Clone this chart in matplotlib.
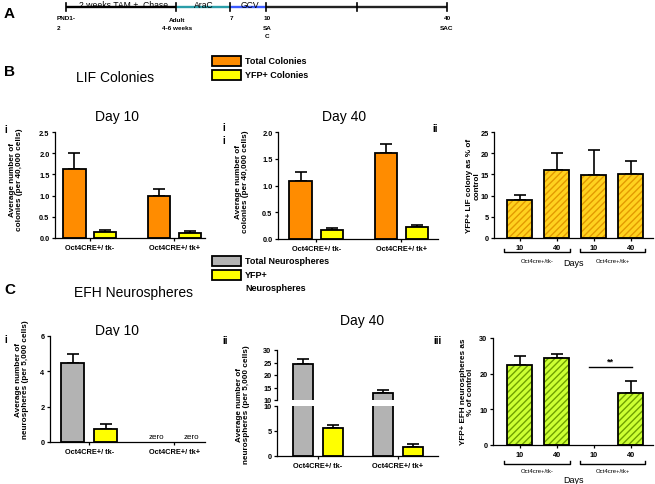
import numpy as np
import matplotlib
matplotlib.use("Agg")
import matplotlib.pyplot as plt
from matplotlib.patches import Rectangle
from matplotlib.transforms import blended_transform_factory

W, H = 655, 485

plt.rcParams['font.family'] = ['Liberation Sans', 'DejaVu Sans']
plt.rcParams['font.weight'] = 'bold'
plt.rcParams['hatch.linewidth'] = 1.0

# ---- data ----
genotypes = ["Oct4CRE+/ tk-", "Oct4CRE+/ tk+"]

lif_d10_total = [1.62, 1.00]
lif_d10_total_err = [0.38, 0.15]
lif_d10_yfp = [0.15, 0.12]
lif_d10_yfp_err = [0.05, 0.04]

lif_d40_total = [1.08, 1.60]
lif_d40_total_err = [0.17, 0.17]
lif_d40_yfp = [0.16, 0.22]
lif_d40_yfp_err = [0.05, 0.04]

pct_days = ["10", "40", "10", "40"]
pct_groups = ["Oct4cre+/tk-", "Oct4cre+/tk+"]
lif_pct = [9.0, 16.0, 14.8, 15.2]
lif_pct_err = [1.2, 4.1, 6.0, 3.0]

efh_d10_total = [4.5, 0.0]
efh_d10_total_err = [0.5, 0.0]
efh_d10_yfp = [0.75, 0.0]
efh_d10_yfp_err = [0.27, 0.0]

efh_d40_total = [24.5, 13.0]
efh_d40_total_err = [1.8, 1.0]
efh_d40_yfp = [5.7, 1.9]
efh_d40_yfp_err = [0.6, 0.5]

efh_pct = [22.3, 24.3, 0.0, 14.7]
efh_pct_err = [2.7, 1.2, 0.0, 3.2]

# timeline (pixel x of each tick)
tl_x = [66, 176, 230, 266, 357, 447]

ORANGE = '#FF8C00'
YELLOW = '#FFFF00'
GREY = '#B3B3B3'


def rect(x0, y0, x1, y1):
    return [x0 / W, 1 - y1 / H, (x1 - x0) / W, (y1 - y0) / H]


def style(ax, ylim, yticks, fmt='%g'):
    for s in ['top', 'right']:
        ax.spines[s].set_visible(False)
    for s in ['left', 'bottom']:
        ax.spines[s].set_linewidth(0.9)
    ax.set_ylim(*ylim)
    ax.set_yticks(yticks)
    ax.set_yticklabels([fmt % t for t in yticks])
    ax.tick_params(length=2.5, width=0.9, labelsize=5.3, pad=1.5)


def draw_bars(ax, xs, vals, errs, color, width):
    for xi, v, e in zip(xs, vals, errs):
        if v <= 0:
            continue
        ax.bar(xi, v, width, color=color, edgecolor='black', linewidth=1.3, zorder=2)
        ax.errorbar(xi, v, yerr=[[0], [e]], fmt='none', ecolor='black',
                    elinewidth=1.2, capsize=4.5, capthick=1.2, zorder=1)


def grouped(ax, total, total_err, yfp, yfp_err, c_total, off, width):
    x = np.arange(len(total))
    draw_bars(ax, x - off, total, total_err, c_total, width)
    draw_bars(ax, x + off, yfp, yfp_err, YELLOW, width)
    ax.set_xticks(x)
    ax.set_xticklabels(genotypes, fontsize=4.9)


def hatched(ax, vals, errs, face, stripe):
    x = np.arange(len(vals))
    for xi, v, e in zip(x, vals, errs):
        if v <= 0:
            continue
        ax.bar(xi, v, 0.67, color=face, edgecolor=stripe, hatch='/////', linewidth=0, zorder=2)
        ax.bar(xi, v, 0.67, fill=False, edgecolor='black', linewidth=1.3, zorder=3)
        ax.errorbar(xi, v, yerr=[[0], [e]], fmt='none', ecolor='black',
                    elinewidth=1.2, capsize=4.5, capthick=1.2, zorder=1)
    ax.set_xticks(x)
    ax.set_xticklabels(pct_days, fontsize=5.8)
    ax.set_xlim(-0.7, 3.6)


def brackets(ax, yb, ylab, ydays):
    tr = blended_transform_factory(ax.transData, ax.transAxes)
    for (a, b), lab in zip([(-0.42, 1.36), (1.62, 3.39)], pct_groups):
        ax.plot([a, a, b, b], [yb + 0.03, yb, yb, yb + 0.03], color='black', lw=1.0,
                transform=tr, clip_on=False)
        ax.text((a + b) / 2, ylab, lab, transform=tr, ha='center', va='center',
                fontsize=4.3, fontweight='normal')
    ax.text(1.45, ydays, 'Days', transform=tr, ha='center', va='center',
            fontsize=6.5, fontweight='normal')


fig = plt.figure(figsize=(W / 100, H / 100), dpi=100)
ov = fig.add_axes([0, 0, 1, 1])
ov.set_xlim(0, W)
ov.set_ylim(H, 0)
ov.axis('off')


def t(x, y, s, size, weight='bold', ha='center', va='center', **kw):
    ov.text(x, y, s, fontsize=size, fontweight=weight, ha=ha, va=va, **kw)


# ---- panel A: timeline ----
seg_cols = ['black', '#2A9DA8', '#3A5BFF', '#222222', '#222222']
for i, c in enumerate(seg_cols):
    ov.plot([tl_x[i], tl_x[i + 1]], [8, 8], color=c, lw=1.7, solid_capstyle='butt')
for x in tl_x:
    ov.plot([x, x], [4, 12], color='black', lw=1.2)
t(124, 8.5, '2 weeks TAM +  Chase', 6.2, 'normal', va='baseline')
t(204, 8.5, 'AraC', 6.2, 'normal', va='baseline')
t(250, 8.5, 'GCV', 6.2, 'normal', va='baseline')
t(57, 19, 'PND1-', 4.6, ha='left')
t(57, 29, '2', 4.6, ha='left')
t(177, 20, 'Adult', 4.6)
t(177, 29, '4-6 weeks', 4.6)
t(231, 19, '7', 4.6)
t(267, 19, '10', 4.6)
t(267, 28, 'SA', 4.6)
t(267, 37, 'C', 4.6)
t(447, 19, '40', 4.6)
t(447, 28, 'SAC', 4.6)
t(4, 14, 'A', 11, ha='left')

# ---- panel B header ----
t(4, 72, 'B', 11, ha='left')
t(115, 78, 'LIF Colonies', 10, 'normal')
ov.add_patch(Rectangle((212, 57), 29, 10, facecolor=ORANGE, edgecolor='black', lw=1.3))
ov.add_patch(Rectangle((212, 71), 29, 10, facecolor=YELLOW, edgecolor='black', lw=1.3))
t(245, 62, 'Total Colonies', 6.5, ha='left')
t(245, 76, 'YFP+ Colonies', 6.5, ha='left')

# B i
ax = fig.add_axes(rect(55, 133, 205, 239))
grouped(ax, lif_d10_total, lif_d10_total_err, lif_d10_yfp, lif_d10_yfp_err, ORANGE, 0.18, 0.26)
ax.set_xlim(-0.41, 1.36)
style(ax, (0, 2.5), [0, 0.5, 1.0, 1.5, 2.0, 2.5], '%.1f')
t(117, 117, 'Day 10', 10, 'normal')
t(4, 130, 'i', 7, ha='left')
t(16, 180, 'Average number of\ncolonies (per 40,000 cells)', 5.9, rotation=90,
  linespacing=1.1)

# B ii
ax = fig.add_axes(rect(278, 133, 438, 240))
grouped(ax, lif_d40_total, lif_d40_total_err, lif_d40_yfp, lif_d40_yfp_err, ORANGE, 0.185, 0.26)
ax.set_xlim(-0.45, 1.43)
style(ax, (0, 2.0), [0, 0.5, 1.0, 1.5, 2.0], '%.1f')
t(344, 117, 'Day 40', 10, 'normal')
t(222, 128, 'i', 7, ha='left')
t(222, 141, 'i', 7, ha='left')
t(242, 182, 'Average number of\ncolonies (per 40,000 cells)', 5.9, rotation=90,
  linespacing=1.1)

# B iii
ax = fig.add_axes(rect(494, 133, 653, 239))
hatched(ax, lif_pct, lif_pct_err, '#FFD21F', '#E39A00')
style(ax, (0, 25), [0, 5, 10, 15, 20, 25])
brackets(ax, -0.132, -0.21, -0.235)
t(432, 129, 'ii', 7, ha='left')
t(432, 144, 'i', 7, ha='left')
t(473, 186, 'YFP+ LIF colony as % of\ncontrol', 5.9, rotation=90, linespacing=1.1)

# ---- panel C header ----
t(4, 290, 'C', 11, ha='left')
t(134, 293, 'EFH Neurospheres', 10, 'normal')
ov.add_patch(Rectangle((212, 257), 29, 10, facecolor=GREY, edgecolor='black', lw=1.3))
ov.add_patch(Rectangle((212, 271), 29, 10, facecolor=YELLOW, edgecolor='black', lw=1.3))
t(245, 262, 'Total Neurospheres', 6.5, ha='left')
t(245, 276, 'YFP+', 6.5, ha='left')
t(245, 289, 'Neurospheres', 6.5, ha='left')

# C i
ax = fig.add_axes(rect(50, 337, 205, 443))
grouped(ax, efh_d10_total, efh_d10_total_err, efh_d10_yfp, efh_d10_yfp_err, GREY, 0.195, 0.27)
ax.set_xlim(-0.46, 1.36)
style(ax, (0, 6), [0, 2, 4, 6])
for xi, v in zip(np.arange(2) - 0.195, efh_d10_total):
    if v <= 0:
        ax.text(xi - 0.02, 0.12, 'zero', ha='center', va='bottom', fontsize=5.8, fontweight='normal')
for xi, v in zip(np.arange(2) + 0.195, efh_d10_yfp):
    if v <= 0:
        ax.text(xi, 0.12, 'zero', ha='center', va='bottom', fontsize=5.8, fontweight='normal')
t(117, 331, 'Day 10', 10, 'normal')
t(4, 340, 'i', 7, ha='left')
t(22, 380, 'Average number of\nneurospheres (per 5,000 cells)', 5.9, rotation=90,
  linespacing=1.1)

# C ii (broken axis)
ax_hi = fig.add_axes(rect(277, 351, 438, 401))
ax_lo = fig.add_axes(rect(277, 407, 438, 457))
for a in (ax_hi, ax_lo):
    grouped(a, efh_d40_total, efh_d40_total_err, efh_d40_yfp, efh_d40_yfp_err, GREY, 0.1875, 0.25)
    a.set_xlim(-0.51, 1.5)
style(ax_hi, (10, 30), [10, 15, 20, 25, 30])
style(ax_lo, (0, 10), [0, 5, 10])
ax_hi.spines['bottom'].set_visible(False)
ax_hi.tick_params(axis='x', bottom=False, labelbottom=False)
t(362, 321, 'Day 40', 10, 'normal')
t(222, 341, 'ii', 7, ha='left')
t(243, 405, 'Average number of\nneurospheres (per 5,000 cells)', 5.9, rotation=90,
  linespacing=1.1)

# C iii
ax = fig.add_axes(rect(493, 339, 653, 446))
hatched(ax, efh_pct, efh_pct_err, '#CCFF33', '#6FA000')
ax.set_xlim(-0.72, 3.6)
style(ax, (0, 30), [0, 10, 20, 30])
ax.plot([1.88, 3.04], [22, 22], color='black', lw=1.0)
ax.text(2.46, 22.3, '**', ha='center', va='bottom', fontsize=6.5)
brackets(ax, -0.18, -0.235, -0.32)
t(433, 341, 'iii', 7, ha='left')
t(467, 392, 'YFP+ EFH neurospheres as\n% of control', 5.9, rotation=90, linespacing=1.1)

fig.savefig('out.png', dpi=100)
